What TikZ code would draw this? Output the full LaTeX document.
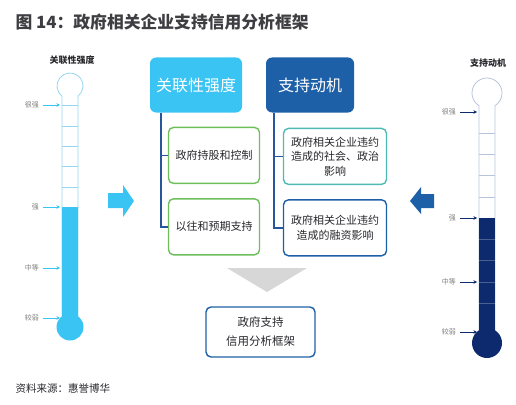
\documentclass[tikz,border=0pt]{standalone}
\usepackage{fontspec}
\setmainfont{Noto Sans CJK SC}
\usepackage{tikz}
\usetikzlibrary{positioning, arrows.meta}
\definecolor{sky}{RGB}{58,196,243}
\definecolor{skyline}{RGB}{150,215,240}
\definecolor{royal}{RGB}{30,96,168}
\definecolor{navy}{RGB}{14,42,110}
\definecolor{navyline}{RGB}{185,195,220}
\definecolor{grn}{RGB}{110,190,92}
\definecolor{teal2}{RGB}{78,186,180}
\definecolor{link}{RGB}{40,86,156}
\definecolor{txt}{RGB}{40,40,45}
\definecolor{greytri}{RGB}{215,215,215}
\tikzset{
  hbox/.style={rounded corners=6pt,text=white,inner sep=0pt,
    font=\fontsize{16}{19}\selectfont,minimum height=55pt},
  sub/.style={draw,line width=1.4pt,rounded corners=5pt,fill=white,
    minimum height=56pt,align=center,inner sep=2pt,text=txt,
    font=\fontsize{11}{14.5}\selectfont},
  conn/.style={draw=link,line width=1.8pt},
  lvl/.style={font=\fontsize{7}{8}\selectfont,text=gray,anchor=east,inner sep=1pt},
  lvlarr/.style={-{Stealth[length=3.5pt,width=3.5pt]},line width=0.6pt,shorten >=2pt},
  ttl/.style={font=\bfseries\fontsize{9}{11}\selectfont,text=txt},
}

\begin{document}
\begin{tikzpicture}[x=1pt,y=-1pt,node distance=14pt]
  \useasboundingbox (0,0) rectangle (516,404);
  % heading and source
  \node[anchor=west,text=txt!90!white,font=\bfseries\fontsize{16.8}{19}\selectfont] (title)
    at (12,22) {图 14：政府相关企业支持信用分析框架};
  \node[anchor=west,text=txt,font=\fontsize{10.5}{12}\selectfont] (src)
    at (12,389) {资料来源：惠誉博华};

  % left thermometer
  \node[ttl] (lttl) at (72,60) {关联性强度};
  \draw[skyline,line width=0.8pt] (62,327) -- (62,96.25)
    arc[start angle=128,end angle=412,radius=13] -- (78,327);
  \foreach \y in {105,126,146,166,187}
    \draw[skyline,line width=0.6pt] (62,\y) -- (78,\y);
  \fill[sky] (62,207) rectangle (78,327);
  \fill[sky] (70,327) circle[radius=13.5];
  \coordinate (lt) at (62,0);
  \node[lvl] (lv1) at (40,105) {很强};
  \node[lvl] (lv2) at (40,207) {强};
  \node[lvl] (lv3) at (40,268) {中等};
  \node[lvl] (lv4) at (40,318) {较弱};
  \foreach \n in {lv1,lv2,lv3,lv4}
    \draw[lvlarr,sky] ([xshift=3pt]\n.east) -- (\n.east -| lt);

  % right thermometer
  \node[ttl] (rttl) at (488,63) {支持动机};
  \draw[navyline,line width=0.8pt] (479,343) -- (479,105.7)
    arc[start angle=122.2,end angle=417.8,radius=15] -- (495,343);
  \foreach \y in {133,154,175,197}
    \draw[navyline,line width=0.6pt] (479,\y) -- (495,\y);
  \fill[navy] (479,218) rectangle (495,343);
  \fill[navy] (487,343) circle[radius=15];
  \foreach \y in {239,260,282,303}
    \draw[navy!75!white,line width=0.6pt] (479,\y) -- (495,\y);
  \coordinate (rt) at (479,0);
  \node[lvl] (rv1) at (457,112) {很强};
  \node[lvl] (rv2) at (457,218) {强};
  \node[lvl] (rv3) at (457,282) {中等};
  \node[lvl] (rv4) at (457,332) {较弱};
  \foreach \n in {rv1,rv2,rv3,rv4}
    \draw[lvlarr,navy] ([xshift=3pt]\n.east) -- (\n.east -| rt);

  % block arrows towards the centre
  \fill[sky] (108,193) -- (123,193) -- (123,185) -- (134,201)
    -- (123,217) -- (123,208) -- (108,208) -- cycle;
  \fill[royal] (434,194) -- (421,194) -- (421,187) -- (410,201)
    -- (421,214) -- (421,208) -- (434,208) -- cycle;

  % two factors
  \node[hbox,fill=sky,minimum width=92pt] (rel) at (196,85) {关联性强度};
  \node[hbox,fill=royal,minimum width=88pt] (mot) at (310,85) {支持动机};
  \node[sub,draw=grn,minimum width=91pt,below right=14pt and 18pt of rel.south west]
    (r1) {政府持股和控制};
  \node[sub,draw=grn,minimum width=91pt,below=of r1] (r2) {以往和预期支持};
  \node[sub,draw=teal2,minimum width=103pt,below right=15pt and 17pt of mot.south west]
    (m1) {政府相关企业违约\\造成的社会、政治\\影响};
  \node[sub,draw=royal,minimum width=103pt,below=of m1] (m2)
    {政府相关企业违约\\造成的融资影响};
  \draw[conn] ([xshift=11pt]rel.south west) |- (r2.west);
  \draw[conn] ([xshift=11pt]rel.south west) |- (r1.west);
  \draw[conn] ([xshift=8pt]mot.south west) |- (m2.west);
  \draw[conn] ([xshift=8pt]mot.south west) |- (m1.west);

  % result
  \fill[greytri] (227,268) -- (307,268) -- (267,292) -- cycle;
  \node[sub,draw=royal,minimum width=109pt,minimum height=50pt,
    font=\fontsize{11.5}{19}\selectfont] (res) at (260.5,332) {政府支持\\信用分析框架};
\end{tikzpicture}
\end{document}
